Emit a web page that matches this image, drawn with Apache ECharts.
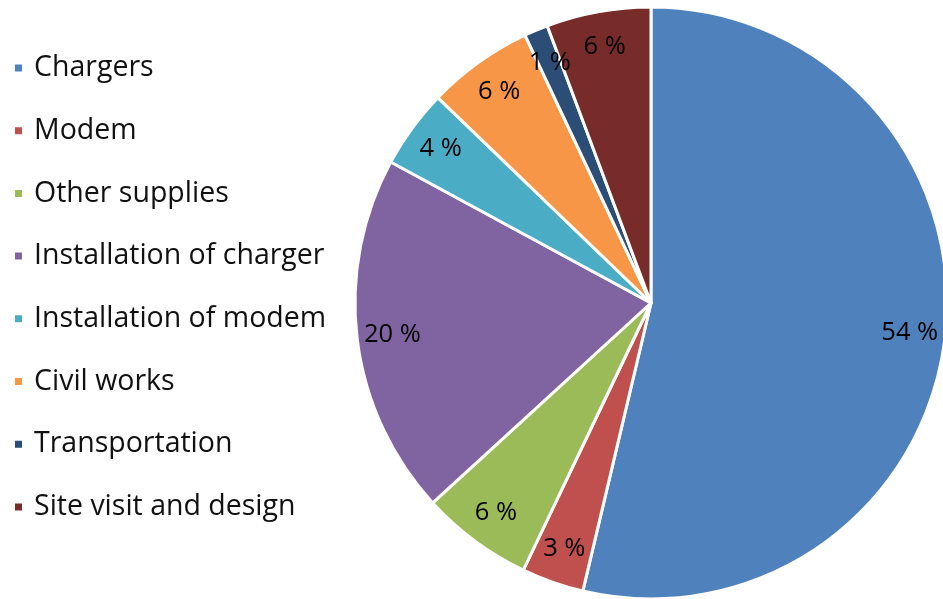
<!DOCTYPE html>
<html><head><meta charset="utf-8">
<script src="https://cdn.jsdelivr.net/npm/echarts@6/dist/echarts.min.js"></script>
<style>html,body{margin:0;padding:0;background:#fff}#c{width:943px;height:599px}</style>
</head><body><div id="c"></div>
<script>
const categories = ['Chargers','Modem','Other supplies','Installation of charger','Installation of modem','Civil works','Transportation','Site visit and design'];
const values = [53.7, 3.4, 6.1, 19.7, 4.3, 5.8, 1.3, 5.7];
const colors = ['#4F81BD','#C0504D','#9BBB59','#8064A2','#4BACC6','#F79646','#2C4D75','#772C2A'];

const data = categories.map((n,i)=>({name:n,value:values[i],itemStyle:{color:colors[i]}}));
const R = 296;
const chart = echarts.init(document.getElementById('c'));
chart.setOption({
  animation:false,
  legend:{orient:'vertical',left:13,top:53,padding:0,itemWidth:9,itemHeight:9,itemGap:32.7,icon:'rect',
    textStyle:{fontFamily:'Open Sans',fontSize:28.5,color:'#111',lineHeight:30,padding:[0,0,0,6]},data:categories},
  series:[
    {type:'pie',center:[651,303],radius:[0,R],startAngle:90,clockwise:true,data:data,
     label:{show:false},labelLine:{show:false},itemStyle:{borderColor:'#fff',borderWidth:3},silent:true},
    {type:'pie',center:[651,303],radius:[R*0.77,R*0.97],startAngle:90,clockwise:true,silent:true,
     data:categories.map((n,i)=>({name:n,value:values[i]})),
     itemStyle:{color:'rgba(0,0,0,0)'},legendHoverLink:false,
     label:{show:true,position:'inside',fontFamily:'Open Sans',fontSize:25.5,color:'#000',
       formatter:p=>Math.round(p.value)+' %'},labelLine:{show:false}}
  ]
});
</script></body></html>
